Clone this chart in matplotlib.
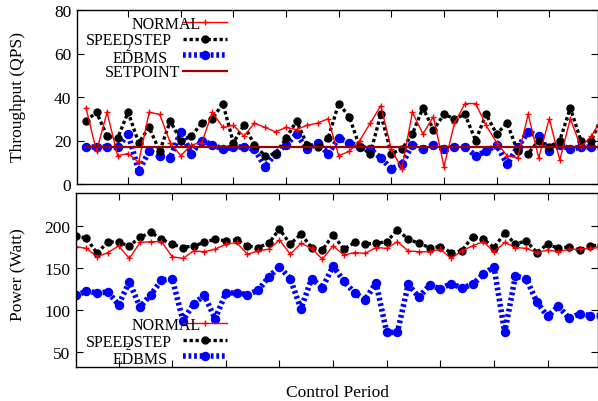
import numpy as np
import matplotlib
matplotlib.use('Agg')
import matplotlib.pyplot as plt

plt.rcParams['font.family'] = ['Liberation Serif', 'DejaVu Serif']

# control periods
period = list(range(1, 51))

# throughput (QPS)
normal_qps = [35, 15, 33, 13, 14, 10, 33, 32, 19, 13, 18, 19, 33, 26, 27, 22, 28, 26, 24, 26,
              25, 27, 28, 30, 13, 15, 20, 28, 36, 16, 7, 33, 23, 31, 8, 28, 37, 37, 27, 19,
              13, 12, 32, 12, 30, 11, 30, 17, 22, 30]
speed_qps = [29, 33, 22, 21, 33, 19, 26, 15, 29, 20, 22, 28, 30, 37, 19, 27, 18, 13, 14, 21,
             29, 18, 17, 21, 37, 31, 17, 14, 32, 14, 16, 23, 35, 25, 32, 30, 32, 20, 32, 23,
             28, 15, 14, 20, 17, 20, 35, 20, 20, 31]
edbms_qps = [17, 17, 17, 17, 23, 6, 15, 13, 12, 24, 14, 20, 18, 16, 17, 17, 16, 8, 14, 18,
             23, 16, 19, 14, 21, 19, 17, 16, 12, 7, 9, 18, 16, 18, 16, 17, 17, 13, 15, 18,
             9, 17, 24, 22, 15, 18, 16, 17, 17, 17]
setpoint = [17] * 50

# power (Watt)
normal_w = [175, 173, 163, 168, 176, 161, 180, 181, 181, 163, 161, 170, 169, 172, 178, 180,
            166, 170, 172, 183, 166, 179, 173, 160, 176, 165, 168, 167, 174, 173, 181, 170,
            169, 169, 172, 161, 170, 176, 181, 169, 180, 174, 173, 168, 171, 169, 172, 172,
            173, 174]
speed_w = [188, 185, 167, 181, 180, 176, 186, 192, 184, 178, 174, 176, 180, 184, 182, 183,
           176, 174, 179, 196, 178, 190, 174, 171, 189, 172, 180, 178, 179, 181, 195, 184,
           179, 174, 175, 168, 170, 187, 184, 174, 191, 178, 182, 168, 178, 173, 175, 171,
           176, 177]
edbms_w = [117, 122, 120, 121, 106, 133, 103, 118, 135, 137, 87, 107, 117, 89, 120, 120,
           118, 123, 139, 151, 137, 101, 137, 126, 152, 134, 120, 112, 132, 73, 73, 130,
           115, 129, 125, 131, 126, 130, 142, 151, 73, 140, 137, 109, 92, 104, 90, 95,
           93, 93]

W, H = 598, 402
fig = plt.figure(figsize=(W / 100, H / 100), dpi=100)


def px_axes(x0, y0, x1, y1):
    return fig.add_axes([x0 / W, 1 - y1 / H, (x1 - x0) / W, (y1 - y0) / H])


red = '#ff0000'
dark_red = '#a00000'
blue = '#0000ff'

normal_style = dict(color=red, lw=1.0, marker='+', ms=4, mew=1.0)
speed_style = dict(color='black', lw=2.4, ls=(0, (1.0, 0.8)), marker='o', ms=5)
edbms_style = dict(color=blue, lw=4.0, ls=(0, (0.5, 0.5)), marker='o', ms=5.8)
set_style = dict(color=dark_red, lw=1.6)

# ---- top: throughput
ax1 = px_axes(77, 11, 598, 185)
ax1.plot(period, edbms_qps, **edbms_style)
ax1.plot(period, speed_qps, **speed_style)
ax1.plot(period, normal_qps, **normal_style)
ax1.plot(period, setpoint, **set_style)
ax1.set_xlim(0.145, 49.63)
ax1.set_ylim(0, 80)
ax1.set_yticks([0, 20, 40, 60, 80])

# ---- bottom: power
ax2 = px_axes(75.7, 194, 598, 368)
ax2.plot(period, edbms_w, **edbms_style)
ax2.plot(period, speed_w, **speed_style)
ax2.plot(period, normal_w, **normal_style)
ax2.set_xlim(1, 49.7)
ax2.set_ylim(31.8, 238.9)
ax2.set_yticks([50, 100, 150, 200])

for ax in (ax1, ax2):
    ax.set_xticks(range(5, 50, 5))
    ax.set_xticklabels([])
    ax.tick_params(direction='in', length=5, width=0.8, top=True, right=True,
                   labelsize=12.5, pad=4)
    for s in ax.spines.values():
        s.set_linewidth(1.0)

fig.text(18 / W, 1 - 97 / H, 'Throughput (QPS)', rotation=90, ha='center', va='center',
         fontsize=12.5)
fig.text(18 / W, 1 - 275 / H, 'Power (Watt)', rotation=90, ha='center', va='center',
         fontsize=12.5)
fig.text(338 / W, 1 - 393 / H, 'Control Period', ha='center', va='center', fontsize=12.5)


# hand-placed legends, gnuplot style
def legend_row(text, tx, base, ly, style, sup=None):
    fig.text(tx / W, 1 - base / H, text, ha='left', va='baseline', fontsize=11.5)
    if sup is not None:
        fig.text(sup[0] / W, 1 - sup[1] / H, '2', ha='center', va='center', fontsize=7.5)
    st = dict(style)
    mk = st.pop('marker', None)
    ms = st.pop('ms', None)
    mew = st.pop('mew', None)
    fig.add_artist(plt.Line2D([183 / W, 227 / W], [1 - ly / H, 1 - ly / H], **st))
    if mk is not None:
        fig.add_artist(plt.Line2D([205 / W], [1 - ly / H], marker=mk, ms=ms, color=st['color'],
                                  mew=mew if mew else 1.0, lw=0))


legend_row('NORMAL', 132, 29, 22.7, normal_style)
legend_row('SPEEDSTEP', 86, 45, 40, speed_style)
legend_row('EDBMS', 113, 63, 55.7, edbms_style, sup=(128, 49))
legend_row('SETPOINT', 105, 77, 71.7, set_style)

legend_row('NORMAL', 132, 330, 324, normal_style)
legend_row('SPEEDSTEP', 86, 347, 340.7, speed_style)
legend_row('EDBMS', 113, 364, 356.7, edbms_style, sup=(128, 348))

fig.savefig('out.png', dpi=100)
